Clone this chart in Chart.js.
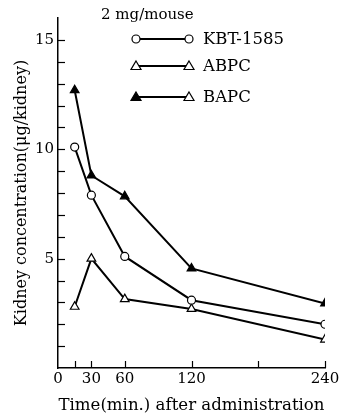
<!DOCTYPE html>
<html>
<head>
<meta charset="utf-8">
<script src="https://cdn.jsdelivr.net/npm/chart.js@4/dist/chart.umd.min.js"></script>
<style>
  html, body { margin: 0; padding: 0; background: #fff; }
  #wrap { width: 342px; height: 416px; position: relative; }
</style>
</head>
<body>
<div id="wrap"><canvas id="grafico"></canvas></div>
<script>
// tempi di prelievo (min) e concentrazioni (ug/kidney)
const tempi = [15, 30, 60, 120, 240];
const kbt = [10.1, 7.9, 5.1, 3.1, 2.0];
const abpc = [2.8, 5.0, 3.15, 2.7, 1.3];
const bapc = [12.7, 8.8, 7.85, 4.55, 2.95];

const nomi = ["KBT-1585", "ABPC", "BAPC"];
const xTicks = [0, 15, 30, 60, 120, 180, 240];
const xLabels = ["0", "", "30", "60", "120", "", "240"];
const yLabels = [5, 10, 15];
const dose = "2 mg/mouse";

const font = "'DejaVu Serif', 'Liberation Serif', serif";

function punti(valori) {
  return tempi.map((t, i) => ({ x: t, y: valori[i] }));
}

// disegna un marcatore (cerchio / triangolo)
function marker(ctx, tipo, x, y, pieno) {
  ctx.save();
  ctx.lineWidth = 1.2;
  ctx.strokeStyle = "#000";
  ctx.fillStyle = pieno ? "#000" : "#fff";
  ctx.beginPath();
  if (tipo === "circle") {
    ctx.arc(x, y, 4, 0, Math.PI * 2);
  } else {
    ctx.moveTo(x, y - 5);
    ctx.lineTo(x + 5, y + 3.5);
    ctx.lineTo(x - 5, y + 3.5);
    ctx.closePath();
  }
  ctx.fill();
  ctx.stroke();
  ctx.restore();
}

// legenda e tacche interne agli assi
const extra = {
  id: "extra",
  afterDraw(chart) {
    const ctx = chart.ctx;
    const xs = chart.scales.x, ys = chart.scales.y;
    ctx.save();
    ctx.strokeStyle = "#000";
    ctx.lineWidth = 1.2;
    // tacche asse y (verso l'interno)
    for (let v = 1; v <= 15; v++) {
      const py = Math.round(ys.getPixelForValue(v)) + 0.5;
      ctx.beginPath();
      ctx.moveTo(xs.left, py);
      ctx.lineTo(xs.left + 7, py);
      ctx.stroke();
    }
    // tacche asse x
    xTicks.forEach(t => {
      if (t === 0) return;
      const px = Math.round(xs.getPixelForValue(t)) + 0.5;
      ctx.beginPath();
      ctx.moveTo(px, ys.bottom);
      ctx.lineTo(px, ys.bottom - 7);
      ctx.stroke();
    });

    // legenda
    ctx.fillStyle = "#000";
    ctx.font = "15px " + font;
    ctx.textBaseline = "middle";
    ctx.textAlign = "left";
    ctx.fillText(dose, 101, 15);
    const righe = [39, 66, 97];
    const tipi = ["circle", "triangle", "triangle"];
    righe.forEach((ry, i) => {
      ctx.lineWidth = 2;
      ctx.beginPath();
      ctx.moveTo(136, ry);
      ctx.lineTo(189, ry);
      ctx.stroke();
      marker(ctx, tipi[i], 136, ry, i === 2);
      marker(ctx, tipi[i], 189, ry, false);
      ctx.fillStyle = "#000";
      ctx.font = "16.5px " + font;
      ctx.fillText(nomi[i], 203, ry + 1);
    });
    ctx.restore();
  }
};

const base = {
  borderColor: "#000",
  borderWidth: 2,
  pointBorderColor: "#000",
  pointBorderWidth: 1.2,
  tension: 0,
  fill: false
};

new Chart(document.getElementById("grafico"), {
  type: "line",
  data: {
    datasets: [
      Object.assign({}, base, {
        label: nomi[0], data: punti(kbt),
        pointStyle: "circle", pointRadius: 4, pointBackgroundColor: "#fff"
      }),
      Object.assign({}, base, {
        label: nomi[1], data: punti(abpc),
        pointStyle: "triangle", pointRadius: 5, pointBackgroundColor: "#fff"
      }),
      Object.assign({}, base, {
        label: nomi[2], data: punti(bapc),
        pointStyle: "triangle", pointRadius: 5, pointBackgroundColor: "#000"
      })
    ]
  },
  options: {
    responsive: true,
    maintainAspectRatio: false,
    animation: false,
    layout: { padding: { top: 18, right: 17, left: 0, bottom: 0 } },
    plugins: { legend: { display: false }, tooltip: { enabled: false } },
    scales: {
      x: {
        type: "linear",
        min: 0, max: 240,
        afterBuildTicks: s => { s.ticks = xTicks.map(v => ({ value: v })); },
        afterFit: s => { s.height = 48; },
        grid: { display: false, drawTicks: false },
        border: { color: "#000", width: 1.5 },
        ticks: {
          padding: 2,
          color: "#000",
          font: { family: font, size: 15 },
          maxRotation: 0,
          autoSkip: false,
          callback: (v, i) => xLabels[i]
        },
        title: {
          display: true,
          text: "Time(min.) after administration",
          color: "#000",
          font: { family: font, size: 16.6 },
          padding: { top: 2, bottom: 0 }
        }
      },
      y: {
        min: 0, max: 16,
        afterBuildTicks: s => { s.ticks = yLabels.map(v => ({ value: v })); },
        afterFit: s => { s.width = 58; },
        grid: { display: false, drawTicks: false },
        border: { color: "#000", width: 1.5 },
        ticks: {
          padding: 4,
          color: "#000",
          font: { family: font, size: 15 }
        },
        title: {
          display: true,
          text: "Kidney concentration(μg/kidney)",
          color: "#000",
          font: { family: font, size: 16 },
          padding: { top: 12, bottom: 0 }
        }
      }
    }
  },
  plugins: [extra]
});
</script>
</body>
</html>
